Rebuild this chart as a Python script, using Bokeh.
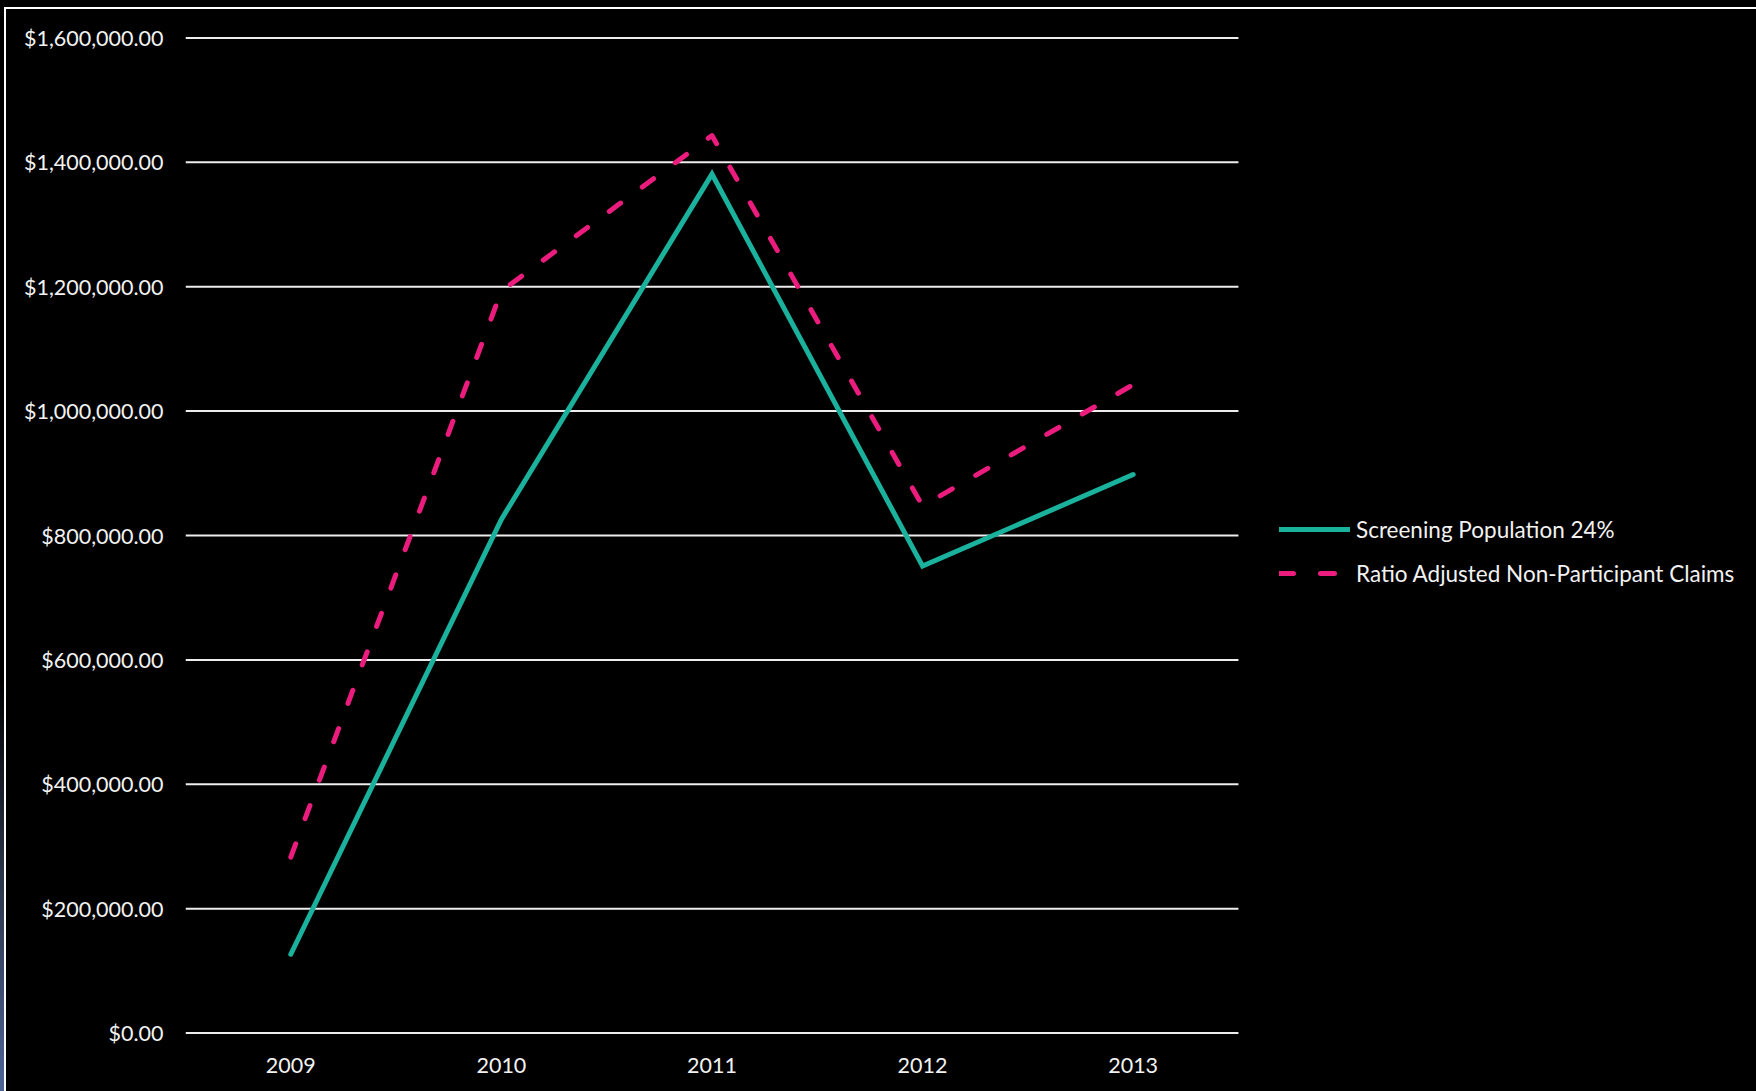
from bokeh.plotting import figure
from bokeh.models import (Range1d, FixedTicker, NumeralTickFormatter, Legend, LegendItem)
from bokeh.embed import file_html
from bokeh.resources import INLINE

# ---- data -------------------------------------------------------------
years = ["2009", "2010", "2011", "2012", "2013"]
screening_population = [126700, 826000, 1381000, 750700, 898000]
ratio_adjusted_claims = [283000, 1193000, 1443000, 847500, 1042500]
y_ticks = [0, 200000, 400000, 600000, 800000, 1000000, 1200000, 1400000, 1600000]

series_labels = ["Screening Population 24%", "Ratio Adjusted Non-Participant Claims"]

# category slots: one unit per year, the plotted band spans -0.5 .. n-0.5
x_pos = list(range(len(years)))
band_lo, band_hi = -0.5, len(years) - 0.5

# ---- style -------------------------------------------------------------
FONT = "Lato"
TEXT = "#f2f2f2"
TEAL = "#1ab19d"
PINK = "#eb1c7d"

# the frame runs to the right edge so the legend can sit beside the band of years
p = figure(
    width=1756, height=1091,
    x_range=Range1d(band_lo, 6.96),
    y_range=Range1d(-20000, 1620000),
    output_backend="svg", toolbar_location=None,
    min_border_left=185, min_border_right=0,
    min_border_top=25, min_border_bottom=46,
)
p.border_fill_color = None
p.background_fill_color = "black"
p.outline_line_color = None

# slide-style frame: thin white rule along top and left, fading blue strip at far left
p.styles = {
    "background-color": "black",
    "background-image": ("linear-gradient(#ffffff,#ffffff), linear-gradient(#ffffff,#ffffff), "
                         "linear-gradient(to bottom, #000000 0%, #000000 62%, #2a344a 80%, #4d6494 100%)"),
    "background-size": "2px calc(100% - 7px), calc(100% - 4px) 2px, 4px 100%",
    "background-position": "4px 7px, 4px 7px, 0px 0px",
    "background-repeat": "no-repeat",
}

# horizontal value gridlines across the band of years only
p.segment(x0=[band_lo] * len(y_ticks), x1=[band_hi] * len(y_ticks),
          y0=y_ticks, y1=y_ticks, line_color="#ededed", line_width=2)

r1 = p.line(x_pos, screening_population, line_color=TEAL, line_width=5,
            line_join="miter", line_cap="round")
r2 = p.line(x_pos, ratio_adjusted_claims, line_color=PINK, line_width=5,
            line_dash="14 27", line_join="round", line_cap="round")

# axes
p.xaxis.ticker = FixedTicker(ticks=x_pos)
p.xaxis.major_label_overrides = {i: y for i, y in zip(x_pos, years)}
p.yaxis.ticker = FixedTicker(ticks=y_ticks)
p.yaxis.formatter = NumeralTickFormatter(format="$0,0.00")
for ax in (p.xaxis[0], p.yaxis[0]):
    ax.axis_line_color = None
    ax.major_tick_line_color = None
    ax.minor_tick_line_color = None
    ax.major_tick_out = 0
    ax.major_label_text_color = TEXT
    ax.major_label_text_font = FONT
    ax.major_label_text_font_size = "21.5px"
p.yaxis.major_label_standoff = 22
p.xaxis.major_label_standoff = 12
p.xgrid.grid_line_color = None
p.ygrid.grid_line_color = None

# legend
legend = Legend(
    items=[LegendItem(label=series_labels[0], renderers=[r1]),
           LegendItem(label=series_labels[1], renderers=[r2])],
    location=(1094, 457),
    background_fill_alpha=0, border_line_color=None,
    padding=0, margin=0, spacing=14,
    glyph_width=71, glyph_height=30, label_height=30, label_standoff=6,
    label_text_color=TEXT, label_text_font=FONT, label_text_font_size="22.5px",
)
p.add_layout(legend)

open("out.html", "w").write(file_html(p, INLINE))
